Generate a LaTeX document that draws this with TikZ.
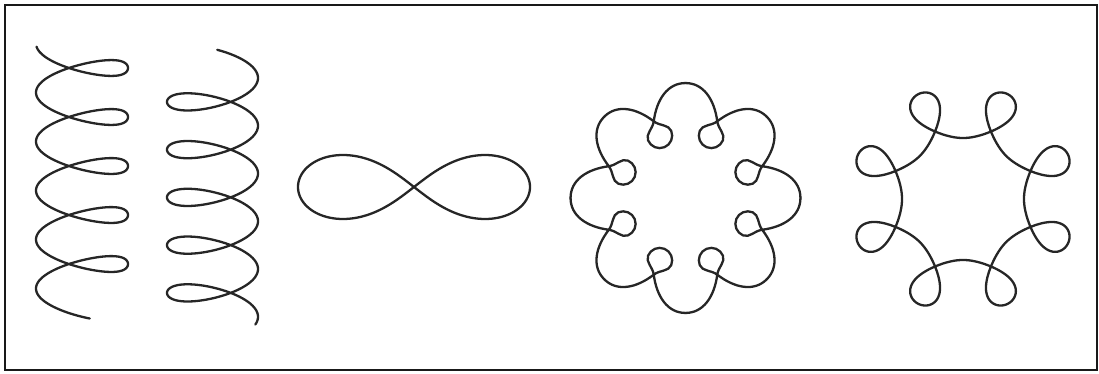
\documentclass[tikz,border=0pt]{standalone}
\usepackage{tikz}
\usetikzlibrary{calc}

\begin{document}
\begin{tikzpicture}[
    x=0.5pt, y=-0.5pt,
    penline/.style={draw=black!85, line width=1.15pt, line join=round, line cap=round},
    frame/.style={draw=black!90, line width=1.3pt},
    declare function={
        rgrad(\u)=87.5+26.5*cos(\u);
        rgang(\u)=22.5+\u/8-18.33*sin(\u);
    }
]

\useasboundingbox (0,0) rectangle (1099,374);
\draw[frame] (5,5) rectangle (1097,370);

% ---- Left coil: loops on the right ----
\draw[penline] plot[domain=0.12:32.9, samples=700, smooth, variable=\t]
    ({82 - 46*cos(\t r) + 12*sin(\t r)^2}, {43.5 + 7.8*\t + 18.5*sin(\t r)});

% ---- Second coil: loops on the left ----
\draw[penline] plot[domain=-1.3:31.72, samples=700, smooth, variable=\t]
    ({212.5 + 45.5*cos(\t r) - 8*sin(\t r)^2}, {78 + 7.6*\t + 19*sin(\t r)});

% ---- Figure eight ----
\draw[penline] plot[domain=0:360, samples=241, smooth cycle, variable=\t]
    ({414 + 116*cos(\t)/(1+sin(\t)^2)}, {187 + 90.5*sin(\t)*cos(\t)/(1+sin(\t)^2)});

% ---- Flower: eight lobes, loops inside (one lobe+loop unit, turned 8 times) ----
\coordinate (flower) at (685.5,198);
\foreach \k in {0,...,7}{
  \begin{scope}[shift={(flower)}, rotate=22.5+45*\k]
    \draw[penline] (106.2,-44) .. controls (113.1,-27.4) and (102.1,-11) .. (83,0)
        .. controls (76.1,4) and (74.5,12.5) .. (67.5,12.5)
        .. controls (60.6,12.5) and (55,6.9) .. (55,0)
        .. controls (55,-6.9) and (60.6,-12.5) .. (67.5,-12.5)
        .. controls (74.5,-12.5) and (76.1,-4) .. (83,0)
        .. controls (102.1,11) and (113.1,27.4) .. (106.2,44);
  \end{scope}
}

% ---- Ring: eight loops outside ----
\draw[penline] plot[domain=0:2880, samples=1441, variable=\t]
    ({963 + rgrad(\t)*cos(rgang(\t))}, {199 + rgrad(\t)*sin(rgang(\t))});

\end{tikzpicture}
\end{document}
